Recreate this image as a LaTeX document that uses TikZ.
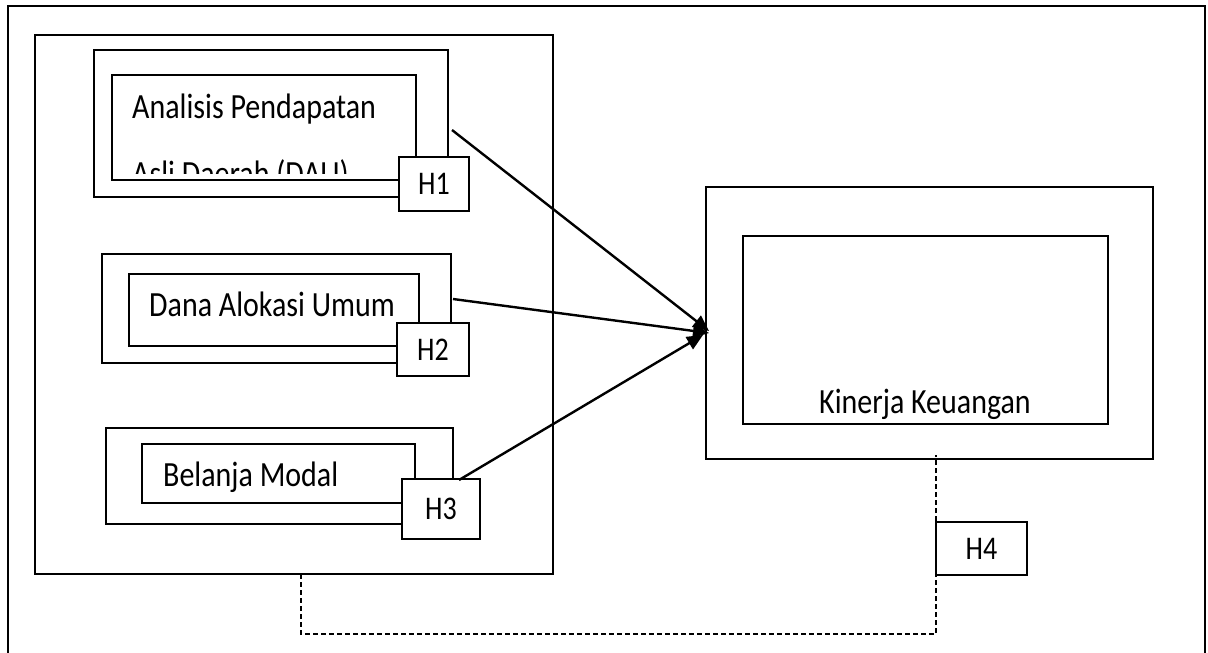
\documentclass[tikz,border=0pt]{standalone}
\usepackage{fontspec}
\setmainfont{Carlito}
\usetikzlibrary{arrows.meta}
\newcommand{\tallt}[1]{\scalebox{1}[1.18]{#1}}
\begin{document}
\begin{tikzpicture}[x=1pt,y=-1pt,
  thickbox/.style={draw=black,line width=2.2pt,inner sep=0pt,fill=none},
  thinbox/.style={draw=black,line width=1.4pt,inner sep=0pt},
  hbox/.style={draw=black,line width=1.4pt,fill=white,inner sep=0pt,font=\fontsize{28}{32}\selectfont},
  lbl/.style={anchor=base west,inner sep=0pt,font=\fontsize{30}{36}\selectfont},
  arr/.style={line width=2.4pt,-{Triangle[length=16pt,width=14pt]}},
  dashline/.style={line width=1.5pt,dash pattern=on 5pt off 3pt}]
\useasboundingbox (0,0) rectangle (1208,653);
% outer frame
\draw[line width=2.2pt] (8,653) -- (8,6) -- (1205,6) -- (1205,653);
% left big box
\node[thickbox,minimum width=518pt,minimum height=539pt] (lb) at (294,304.5) {};
% box 1
\node[thickbox,minimum width=354pt,minimum height=147pt] (b1o) at (271,123.5) {};
\node[thinbox,minimum width=304pt,minimum height=105pt] (b1i) at (264,127.5) {};
\node[lbl] (t1) at (132,118) {\tallt{Analisis Pendapatan}};
\begin{scope}
  \clip (112,75) rectangle (416,173);
  \node[lbl] (t1b) at (132,185) {\tallt{Asli Daerah (DAU)}};
\end{scope}
\node[hbox,minimum width=70pt,minimum height=54pt] (h1) at (434,184) {\tallt{H1}};
% box 2
\node[thickbox,minimum width=349pt,minimum height=109pt] (b2o) at (276.5,308.5) {};
\node[thinbox,minimum width=290pt,minimum height=72pt] (b2i) at (274,310) {};
\node[lbl] (t2) at (149,316) {\tallt{Dana Alokasi Umum}};
\node[hbox,minimum width=72pt,minimum height=53pt] (h2) at (433,349.5) {\tallt{H2}};
% box 3
\node[thickbox,minimum width=347pt,minimum height=96pt] (b3o) at (279.5,476) {};
\node[thinbox,minimum width=273pt,minimum height=59pt] (b3i) at (278.5,473.5) {};
\node[lbl] (t3) at (163,486) {\tallt{Belanja Modal}};
\node[hbox,minimum width=78pt,minimum height=60pt] (h3) at (441,509) {\tallt{H3}};
% Kinerja
\node[thickbox,minimum width=447pt,minimum height=272pt] (ko) at (929.5,323) {};
\node[thinbox,minimum width=365pt,minimum height=188pt] (ki) at (925.5,330) {};
\node[lbl] (t4) at (819,413) {\tallt{Kinerja Keuangan}};
\node[hbox,minimum width=91pt,minimum height=53pt] (h4) at (981.5,548.5) {\tallt{H4}};
% connector points
\coordinate (s1) at (452,130);
\coordinate (s2) at (453,299);
\coordinate (s3) at (459,480);
\coordinate (e1) at (709,331);
\coordinate (e2) at (709,333);
\coordinate (e3) at (703,335);
\draw[arr] (s1) -- (e1);
\draw[arr] (s2) -- (e2);
\draw[arr] (s3) -- (e3);
% dashed link
\coordinate (d1) at (301,574);
\coordinate (d2) at (936,455);
\draw[dashline] (d1) -- (301,634) -- (936,634) -- (d2);
\end{tikzpicture}
\end{document}
